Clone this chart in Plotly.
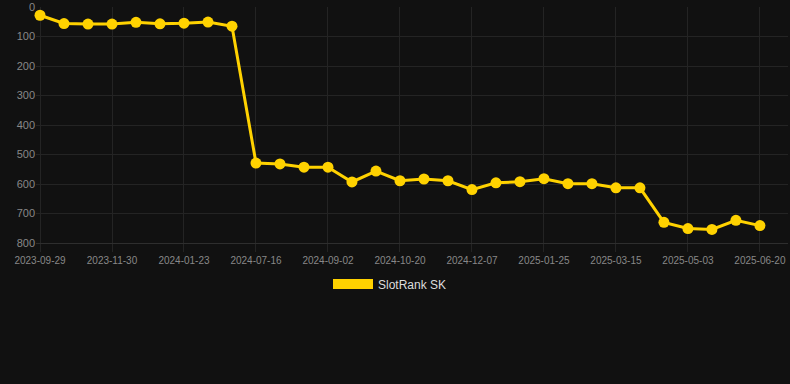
import plotly.graph_objects as go

dates = [
    "2023-09-29", "2023-10-19", "2023-11-09", "2023-11-30", "2023-12-18",
    "2024-01-05", "2024-01-23", "2024-03-20", "2024-05-18", "2024-07-16",
    "2024-08-01", "2024-08-17", "2024-09-02", "2024-09-18", "2024-10-04",
    "2024-10-20", "2024-11-05", "2024-11-21", "2024-12-07", "2024-12-23",
    "2025-01-09", "2025-01-25", "2025-02-10", "2025-02-26", "2025-03-15",
    "2025-03-31", "2025-04-17", "2025-05-03", "2025-05-19", "2025-06-04",
    "2025-06-20",
]
ranks = [
    28, 56, 58, 58, 52, 57, 55, 51, 65, 529,
    532, 543, 543, 593, 556, 589, 583, 589, 619, 596,
    592, 582, 599, 599, 613, 613, 730, 751, 754, 723,
    741,
]
tick_labels = dates[::3]
series_name = "SlotRank SK"

gold = "#FFD200"
bg = "#111111"
grid = "#242424"

fig = go.Figure()
fig.add_trace(go.Scatter(
    x=dates, y=ranks, mode="lines+markers", name=series_name,
    line=dict(color=gold, width=3),
    marker=dict(color=gold, size=11),
    showlegend=False, cliponaxis=False,
))
fig.add_trace(go.Scatter(
    x=[None], y=[None], mode="lines", name=series_name,
    line=dict(color=gold, width=13),
    showlegend=True,
))

fig.update_layout(
    width=790, height=384,
    paper_bgcolor=bg, plot_bgcolor=bg,
    margin=dict(l=36, r=2, t=7, b=141),
    font=dict(family="Liberation Sans, Arial, sans-serif", color="#888888"),
    legend=dict(
        orientation="h", xref="container", yref="container",
        x=0.5 - 5 / 790, xanchor="center", y=1 - 284 / 384, yanchor="middle",
        font=dict(size=12, color="#dddddd"), itemwidth=40,
        bgcolor="rgba(0,0,0,0)",
    ),
)
fig.update_xaxes(
    type="category", categoryorder="array", categoryarray=dates,
    range=[-0.167, 31.17],
    tickmode="array", tickvals=tick_labels, ticktext=tick_labels,
    tickfont=dict(size=10, color="#888888"),
    showgrid=True, gridcolor=grid, gridwidth=1,
    ticks="outside", ticklen=8, tickcolor=grid,
    showline=True, linecolor="#2e2e2e", linewidth=1,
    zeroline=False,
)
fig.update_yaxes(
    range=[800, 0],
    tickmode="array", tickvals=[0, 100, 200, 300, 400, 500, 600, 700, 800],
    tickfont=dict(size=11, color="#888888"),
    showgrid=True, gridcolor=grid, gridwidth=1,
    ticks="", showline=False, zeroline=False,
)

fig.write_html("out.html", config={"displayModeBar": False})

with open("out.html", "r", encoding="utf-8") as f:
    html = f.read()
html = html.replace(
    "<head>",
    "<head><style>html,body{margin:0;padding:0;background:#111111;overflow:hidden;}</style>",
    1,
)
with open("out.html", "w", encoding="utf-8") as f:
    f.write(html)
